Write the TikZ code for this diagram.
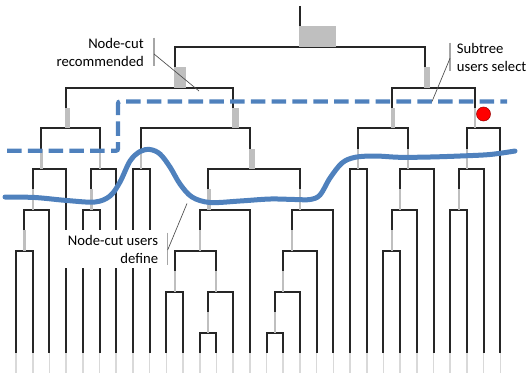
\documentclass[tikz,border=0pt]{standalone}
\usepackage{fontspec}
\setmainfont{Carlito}
\definecolor{cutblue}{RGB}{79,129,189}
\newcommand{\greybar}[2]{%
  \fill[gbar] ([xshift=-0.75pt]#1) rectangle ([xshift={(#2-1)*0.75pt},yshift=15.5pt]#1);}

\begin{document}
\begin{tikzpicture}[
  x=0.75pt, y=-0.75pt,
  link/.style={draw=black!85, line width=1.5pt, line join=miter},
  leafend/.style={draw=black!15, line width=1.2pt},
  gbar/.style={fill=black!25},
  cutline/.style={draw=cutblue, line width=3.75pt, line cap=round},
  pickline/.style={draw=cutblue, line width=3.2pt, dash pattern=on 10.9pt off 4.7pt},
  dot/.style={circle, fill=red, draw=red!60!black, line width=0.4pt, minimum size=10.5pt, inner sep=0pt},
  lbl/.style={fill=white, font=\fontsize{11}{13.5}\selectfont, inner xsep=3.5pt, inner ysep=2.5pt},
  accent/.style={draw=black!35, line width=1.1pt},
  lead/.style={draw=black!70, line width=0.5pt}
]
\useasboundingbox (0,0) rectangle (527,376);

% merge points: x = mean leaf index, y = merge level
\begin{scope}[shift={(16,5.85)}, x=12.525pt, y=-30.6375pt]
  \foreach \i in {0,...,29}
    \coordinate (l\i) at (\i,8.5);
  \coordinate (top) at (17,0);
  \coordinate (root) at (17,1);
  \coordinate (lt) at (9.5,2);
  \coordinate (rt) at (24.5,2);
  \coordinate (a) at (3,3);
  \coordinate (a1) at (1.5,4);
  \coordinate (a2) at (1,5);
  \coordinate (a3) at (0.5,6);
  \coordinate (a4) at (5,4);
  \coordinate (a5) at (4.5,5);
  \coordinate (b) at (13,3);
  \coordinate (b1) at (7.5,4);
  \coordinate (b2) at (14,4);
  \coordinate (b3) at (11.5,5);
  \coordinate (b4) at (11,6);
  \coordinate (b5) at (9.5,7);
  \coordinate (b6) at (12,7);
  \coordinate (b7) at (11.5,8);
  \coordinate (b8) at (17,5);
  \coordinate (b9) at (16.5,6);
  \coordinate (b10) at (16,7);
  \coordinate (b11) at (15.5,8);
  \coordinate (c) at (22.5,3);
  \coordinate (c1) at (20.5,4);
  \coordinate (c2) at (23.5,4);
  \coordinate (c3) at (23,5);
  \coordinate (c4) at (22.5,6);
  \coordinate (d) at (27.5,3);
  \coordinate (d1) at (27,4);
  \coordinate (d2) at (26.5,5);
\end{scope}

% dendrogram
\draw[link] (top) -- (root);
\foreach \p/\q in {root/lt, root/rt, lt/a, lt/b,
    a/a1, a/a4, a1/a2, a1/l3, a2/a3, a2/l2, a3/l0, a3/l1, a4/a5, a4/l6, a5/l4, a5/l5,
    b/b1, b/b2, b1/l7, b1/l8, b2/b3, b2/b8, b3/b4, b3/l14, b4/b5, b4/b6, b5/l9, b5/l10,
    b6/b7, b6/l13, b7/l11, b7/l12, b8/b9, b8/l19, b9/b10, b9/l18, b10/b11, b10/l17,
    b11/l15, b11/l16,
    rt/c, rt/d, c/c1, c/c2, c1/l20, c1/l21, c2/c3, c2/l25, c3/c4, c3/l24, c4/l22, c4/l23,
    d/d1, d/l29, d1/d2, d1/l28, d2/l26, d2/l27}
  \draw[link] (\p) -| (\q);

% grey bars on the merge stems
\foreach \n/\w in {root/37, lt/12, rt/6, a/4.5, b/7, c/4.5, d/2, b2/6.5, b3/3.5,
    a1/2.5, a2/2.5, a3/2.5, a4/2.5, a5/2.5, b1/2, b4/2.5, b5/2, b6/2, b7/2,
    b8/2.5, b9/2.5, b10/2, b11/2, c1/2, c2/2, c3/2, c4/2, d1/2.5, d2/2}
  \greybar{\n}{\w};

\foreach \i in {0,...,29}
  \draw[leafend] (l\i) -- ++(0,20);

% cuts
\draw[pickline, rounded corners=1.5pt] (7,150.7) -- (118,150.7) -- (118,101.5) -- (507,101.5);
\draw[cutline] plot[smooth, tension=0.55] coordinates {
  (5,197) (35,197.5) (67,200.5) (95,202) (110,196) (120,182) (130,161) (140,151.5)
  (150,149.5) (160,154) (170,167) (180,184) (192,197) (210,202.5) (240,201)
  (270,199) (295,199.5) (310,199.5) (320,195) (330,178) (342,163) (355,157.3)
  (375,156) (400,157.3) (430,157) (460,156) (490,154.5) (515,151)};

\node[dot] (sel) at (483.5,114) {};

\coordinate (recpt) at (199,91);
\coordinate (usrpt) at (187,203.5);
\coordinate (subpt) at (432,101.5);

% labels
\node[lbl, align=right, anchor=east] (rec) at (148.7,52) {Node-cut\\recommended};
\node[lbl, align=right, anchor=east, inner ysep=3.5pt] (usr) at (163,249) {Node-cut users\\define};
\node[lbl, align=left, anchor=west] (sub) at (452,57) {Subtree\\users select};

\draw[accent] ([shift={(4pt,-2.5pt)}]rec.north east) -- ([shift={(4pt,2.5pt)}]rec.south east);
\draw[lead] ([shift={(4pt,-1.5pt)}]rec.east) -- (recpt);
\draw[accent] ([shift={(3.5pt,-2pt)}]usr.north east) -- ([shift={(3.5pt,2.5pt)}]usr.south east);
\draw[lead] ([shift={(3.5pt,-0.75pt)}]usr.east) -- (usrpt);
\draw[accent] ([shift={(-1.5pt,-2.5pt)}]sub.north west) -- ([shift={(-1.5pt,2.5pt)}]sub.south west);
\draw[lead] ([shift={(-1.5pt,-1pt)}]sub.west) -- (subpt);

\end{tikzpicture}
\end{document}
